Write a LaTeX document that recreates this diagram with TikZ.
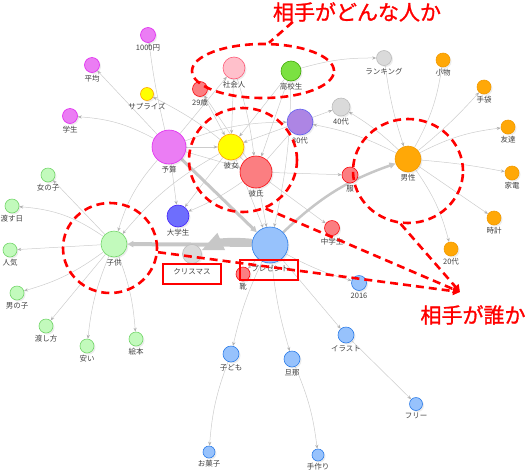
\documentclass[tikz,border=0pt]{standalone}
\usepackage{fontspec}
\setmainfont{Noto Sans CJK JP}
\newfontfamily\notefont{Noto Sans CJK JP}[FakeBold=1.2]
\usetikzlibrary{arrows.meta,shapes.geometric,backgrounds,shadows}

\definecolor{bluebg}{HTML}{97C2FC}\definecolor{bluebd}{HTML}{2B7CE9}
\definecolor{yelbg}{HTML}{FFFF00}\definecolor{yelbd}{HTML}{FFA500}
\definecolor{redbg}{HTML}{FB7E81}\definecolor{redbd}{HTML}{FA0A10}
\definecolor{grnbg}{HTML}{7BE141}\definecolor{grnbd}{HTML}{41A906}
\definecolor{magbg}{HTML}{EB7DF4}\definecolor{magbd}{HTML}{E129F0}
\definecolor{purbg}{HTML}{AD85E4}\definecolor{purbd}{HTML}{6060F0}
\definecolor{orabg}{HTML}{FFA807}\definecolor{orabd}{HTML}{F29A00}
\definecolor{indbg}{HTML}{6E6EFD}\definecolor{indbd}{HTML}{4220FB}
\definecolor{pnkbg}{HTML}{FFC0CB}\definecolor{pnkbd}{HTML}{FD5A77}
\definecolor{lgrbg}{HTML}{C2FABC}\definecolor{lgrbd}{HTML}{74D66A}
\definecolor{grybg}{HTML}{DADADA}\definecolor{grybd}{HTML}{BBBBBB}

\tikzset{
  nd/.style={shape=circle,inner sep=0pt,minimum size=#1,line width=0.6pt,
    drop shadow={shadow xshift=1.5pt,shadow yshift=-1.5pt,opacity=0.15}},
  every label/.style={font=\fontsize{7.5}{8}\selectfont,text=black!75,inner sep=0.5pt},
  lk/.style={draw=black!20,line width=0.5pt,-{Stealth[length=4pt,width=3.2pt,color=black!30]}},
  wlk/.style={draw=black!22,line width=#1,-{Triangle[length=6pt,width=6pt]}},
  reddash/.style={draw=red,line width=2.6pt,dash pattern=on 8pt off 5pt},
  ring/.style={reddash,shape=ellipse,inner sep=0pt},
  redbox/.style={draw=red,line width=2.2pt,inner sep=0pt},
  redtxt/.style={text=red,font=\notefont\fontsize{21}{22}\selectfont,inner sep=0pt}
}

\begin{document}
\begin{tikzpicture}[x=1pt,y=-1pt,label distance=1.5pt]
  \useasboundingbox (0,0) rectangle (529,472);

  % budget group
  \node[nd=15pt,fill=magbg,draw=magbd,label=below:1000円] (en1000) at (148,35) {};
  \node[nd=15pt,fill=magbg,draw=magbd,label=below:平均] (heikin) at (92,65) {};
  \node[nd=15pt,fill=magbg,draw=magbd,label=below:学生] (gakusei) at (70,116) {};
  \node[nd=34pt,fill=magbg,draw=magbd,label=below:予算] (yosan) at (169,147) {};
  \node[nd=13pt,fill=yelbg,draw=yelbd,label=below:サプライズ] (surprise) at (147,94) {};
  \node[nd=26pt,fill=yelbg,draw=yelbd,label=below:彼女] (kanojo) at (231,147) {};

  % partner group
  \node[nd=15pt,fill=redbg,draw=redbd,label=below:29歳] (sai29) at (200,89) {};
  \node[nd=32pt,fill=redbg,draw=redbd,label=below:彼氏] (kareshi) at (256,172) {};
  \node[nd=16pt,fill=redbg,draw=redbd,label=below:服] (fuku) at (350,175) {};
  \node[nd=15pt,fill=redbg,draw=redbd,label=below:中学生] (chugaku) at (332,228) {};
  \node[nd=14pt,fill=redbg,draw=redbd,label=below:靴] (kutsu) at (243,274) {};
  \node[nd=22pt,fill=pnkbg,draw=pnkbd,label=below:社会人] (shakai) at (234,68) {};
  \node[nd=20pt,fill=grnbg,draw=grnbd,label=below:高校生] (koukou) at (291,71) {};
  \node[nd=26pt,fill=purbg,draw=purbd,label=below:30代] (dai30) at (300,122) {};
  \node[nd=22pt,fill=indbg,draw=indbd,label=below:大学生] (daigaku) at (178,216) {};
  \node[nd=15pt,fill=grybg,draw=grybd,label=below:ランキング] (ranking) at (384,58) {};
  \node[nd=18pt,fill=grybg,draw=grybd,label=below:40代] (dai40) at (341,107) {};
  \node[nd=19pt,fill=grybg,draw=grybd,label={[label distance=4pt]below:クリスマス}] (xmas) at (192,254) {};

  % men group
  \node[nd=14pt,fill=orabg,draw=orabd,label=below:小物] (komono) at (443,60) {};
  \node[nd=14pt,fill=orabg,draw=orabd,label=below:手袋] (tebukuro) at (484,87) {};
  \node[nd=14pt,fill=orabg,draw=orabd,label=below:友達] (tomodachi) at (508,127) {};
  \node[nd=26pt,fill=orabg,draw=orabd,label=below:男性] (dansei) at (408,159) {};
  \node[nd=14pt,fill=orabg,draw=orabd,label=below:家電] (kaden) at (512,173) {};
  \node[nd=14pt,fill=orabg,draw=orabd,label=below:時計] (tokei) at (494,218) {};
  \node[nd=14pt,fill=orabg,draw=orabd,label=below:20代] (dai20) at (451,249) {};

  % kids group
  \node[nd=26pt,fill=lgrbg,draw=lgrbd,label=below:子供] (kodomo) at (114,244) {};
  \node[nd=14pt,fill=lgrbg,draw=lgrbd,label=below:女の子] (onnanoko) at (48,175) {};
  \node[nd=14pt,fill=lgrbg,draw=lgrbd,label=below:渡す日] (watasuhi) at (12,206) {};
  \node[nd=14pt,fill=lgrbg,draw=lgrbd,label=below:人気] (ninki) at (10,250) {};
  \node[nd=14pt,fill=lgrbg,draw=lgrbd,label=below:男の子] (otokonoko) at (17,293) {};
  \node[nd=14pt,fill=lgrbg,draw=lgrbd,label=below:渡し方] (watashikata) at (46,326) {};
  \node[nd=14pt,fill=lgrbg,draw=lgrbd,label=below:安い] (yasui) at (87,346) {};
  \node[nd=14pt,fill=lgrbg,draw=lgrbd,label=below:絵本] (ehon) at (136,339) {};

  % present group
  \node[nd=36pt,fill=bluebg,draw=bluebd,label=below:プレゼント] (present) at (270,245) {};
  \node[nd=15pt,fill=bluebg,draw=bluebd,label=below:2016] (y2016) at (359,283) {};
  \node[nd=16pt,fill=bluebg,draw=bluebd,label=below:イラスト] (illust) at (346,335) {};
  \node[nd=16pt,fill=bluebg,draw=bluebd,label=below:子ども] (kodomo2) at (231,354) {};
  \node[nd=16pt,fill=bluebg,draw=bluebd,label=below:旦那] (danna) at (292,359) {};
  \node[nd=12pt,fill=bluebg,draw=bluebd,label=below:お菓子] (okashi) at (209,452) {};
  \node[nd=13pt,fill=bluebg,draw=bluebd,label=below:フリー] (free) at (416,404) {};
  \node[nd=12pt,fill=bluebg,draw=bluebd,label=below:手作り] (tezukuri) at (318,455) {};

  \begin{scope}[on background layer]
    \draw[lk] (yosan) to[bend left=3] (en1000);
    \draw[lk] (yosan) -- (heikin);
    \draw[lk] (yosan) to[bend right=12] (gakusei);
    \draw[lk] (yosan) -- (kanojo);
    \draw[lk] (yosan) -- (daigaku);
    \draw[lk] (yosan) to[bend right=12] (kodomo);
    \draw[lk] (yosan) -- (shakai);
    \draw[lk] (yosan) to[bend left=10] (dai30);
    \draw[lk] (yosan) -- (kareshi);
    \draw[lk] (kareshi) to[bend right=8] (surprise);
    \draw[lk] (sai29) -- (kanojo);
    \draw[lk] (shakai) -- (kanojo);
    \draw[lk] (shakai) to[bend left=5] (kareshi);
    \draw[lk] (koukou) -- (kanojo);
    \draw[lk] (koukou) -- (kareshi);
    \draw[lk] (koukou) to[bend left=6] (present);
    \draw[lk] (kareshi) -- (sai29);
    \draw[lk] (kanojo) -- (daigaku);
    \draw[lk] (kareshi) to[bend left=6] (daigaku);
    \draw[lk] (kanojo) to[bend right=10] (kodomo);
    \draw[lk] (kanojo) -- (present);
    \draw[lk] (kareshi) -- (present);
    \draw[lk] (kareshi) -- (fuku);
    \draw[lk] (kareshi) -- (chugaku);
    \draw[lk] (kareshi) -- (dai30);
    \draw[lk] (dai30) -- (kanojo);
    \draw[lk] (dai30) -- (dai40);
    \draw[lk] (koukou) to[bend left=8] (ranking);
    \draw[lk] (ranking) to[bend right=5] (dansei);
    \draw[lk] (dansei) to[bend right=6] (dai40);
    \draw[lk] (dansei) to[bend right=8] (dai30);
    \draw[lk] (dansei) to[bend right=10] (komono);
    \draw[lk] (dansei) to[bend right=4] (tebukuro);
    \draw[lk] (dansei) to[bend left=10] (tomodachi);
    \draw[lk] (dansei) to[bend left=3] (kaden);
    \draw[lk] (dansei) -- (tokei);
    \draw[lk] (dansei) to[bend left=10] (dai20);
    \draw[lk] (kodomo) -- (onnanoko);
    \draw[lk] (kodomo) to[bend right=15] (watasuhi);
    \draw[lk] (kodomo) -- (ninki);
    \draw[lk] (kodomo) to[bend left=10] (otokonoko);
    \draw[lk] (kodomo) -- (watashikata);
    \draw[lk] (kodomo) to[bend right=8] (yasui);
    \draw[lk] (kodomo) to[bend left=8] (ehon);
    \draw[lk] (present) -- (kutsu);
    \draw[lk] (present) to[bend right=6] (kodomo2);
    \draw[lk] (present) to[bend right=5] (danna);
    \draw[lk] (present) -- (illust);
    \draw[lk] (present) to[bend right=6] (y2016);
    \draw[lk] (kodomo2) to[bend right=8] (okashi);
    \draw[lk] (danna) to[bend left=8] (tezukuri);
    \draw[lk] (illust) -- (free);
    % heavy links
    \draw[wlk=3pt] (yosan) -- (present);
    \draw[wlk=4pt] (present) -- (kodomo);
    \draw[wlk=7pt,-{Triangle[length=22pt,width=17pt]}] (present) to[bend right=15] (xmas);
    \draw[wlk=2.5pt] (present) to[bend left=12] (dansei);
  \end{scope}

  % notes
  \node[ring,minimum width=142pt,minimum height=54pt] (who1) at (263,71) {};
  \node[ring,minimum width=108pt,minimum height=104pt] (who2) at (243,160) {};
  \node[ring,minimum width=110pt,minimum height=104pt] (who3) at (408,171) {};
  \node[ring,minimum width=94pt,minimum height=90pt] (who4) at (110,248) {};
  \node[redbox,minimum width=58pt,minimum height=20pt] (xmasbox) at (192,274) {};
  \node[redbox,minimum width=58pt,minimum height=20pt] (presbox) at (269,270) {};

  \node[redtxt] (qwhat) at (357,12) {相手がどんな人か};
  \node[redtxt] (qwho) at (473,315) {相手が誰か};
  \coordinate (tip) at (460,292);

  \draw[reddash] ([xshift=20pt]qwhat.south west) -- (who1.78);
  \draw[reddash,-{Triangle[length=7pt,width=8pt]}] (who4.-5) -- (tip);
  \draw[reddash,-{Triangle[length=7pt,width=8pt]}] (who2.-65) -- (tip);
  \draw[reddash,-{Triangle[length=7pt,width=8pt]}] (who3.-98) -- (tip);
\end{tikzpicture}
\end{document}
